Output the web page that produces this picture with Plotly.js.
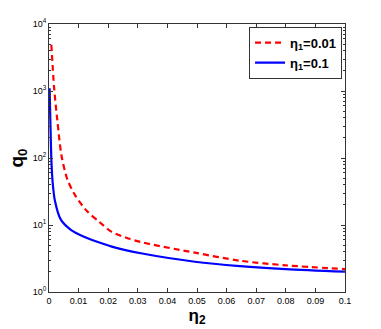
<!DOCTYPE html>
<html>
<head>
<meta charset="utf-8">
<script src="https://cdn.plot.ly/plotly-3.0.1.min.js"></script>
<style>
  html, body { margin: 0; padding: 0; background: #fff; }
  #chart { width: 381px; height: 329px; }
</style>
</head>
<body>
<div id="chart"></div>
<script>
// eta1 = 0.01 (red dashed)
const eta2Low = [0.0008, 0.0017, 0.0028, 0.0042, 0.0062, 0.009, 0.0129, 0.0169, 0.0212, 0.0268, 0.0315, 0.0493, 0.0645, 0.08, 0.1];
const q0Low   = [4900, 1150, 370, 110, 48, 27, 16, 11.2, 7.9, 6.3, 5.5, 3.86, 2.93, 2.5, 2.2];

// eta1 = 0.1 (blue solid)
const eta2High = [0.0002, 0.0005, 0.0008, 0.0012, 0.002, 0.004, 0.0075, 0.0118, 0.018, 0.0212, 0.0315, 0.0493, 0.0645, 0.08, 0.1];
const q0High   = [1100, 300, 95, 45, 23, 12, 8.4, 6.7, 5.3, 4.75, 3.75, 2.83, 2.44, 2.2, 2.01];

const xTicks = [0, 0.01, 0.02, 0.03, 0.04, 0.05, 0.06, 0.07, 0.08, 0.09, 0.1];
const xTickText = ["0", "0.01", "0.02", "0.03", "0.04", "0.05", "0.06", "0.07", "0.08", "0.09", "0.1"];
const yTicks = [1, 10, 100, 1000, 10000];
const yTickText = ["10<sup>0</sup>", "10<sup>1</sup>", "10<sup>2</sup>", "10<sup>3</sup>", "10<sup>4</sup>"];

// minor ticks 2..9 in each decade
const yMinor = [];
for (let d = 1; d < 10000; d *= 10)
    for (let m = 2; m <= 9; m++) yMinor.push(m * d);

const lowTrace = {
    x: eta2Low,
    y: q0Low,
    name: "<b>η<sub>1</sub>=0.01</b>",
    type: "scatter",
    mode: "lines",
    line: {color: "#ff0000", width: 2.2, dash: "6px,4px", shape: "spline", smoothing: 0.8}
};

const highTrace = {
    x: eta2High,
    y: q0High,
    name: "<b>η<sub>1</sub>=0.1</b>",
    type: "scatter",
    mode: "lines",
    line: {color: "#0000ff", width: 2.2, shape: "spline", smoothing: 0.8}
};

const axisCommon = {
    showline: true,
    linecolor: "#333",
    linewidth: 1,
    mirror: "ticks",
    ticks: "inside",
    ticklen: 4,
    tickcolor: "#333",
    showgrid: false,
    zeroline: false,
    tickfont: {family: "Liberation Sans, Arial, sans-serif", size: 9, color: "#000"}
};

const layout = {
    width: 381,
    height: 329,
    paper_bgcolor: "#fff",
    plot_bgcolor: "#fff",
    margin: {t: 24, r: 36, b: 37, l: 49},
    showlegend: true,
    legend: {
        x: 0.99, y: 0.99, xanchor: "right", yanchor: "top",
        bgcolor: "#fff", bordercolor: "#333", borderwidth: 1,
        font: {family: "Liberation Sans, Arial, sans-serif", size: 13, color: "#000"}
    },
    xaxis: Object.assign({}, axisCommon, {
        range: [0, 0.1],
        tickmode: "array",
        tickvals: xTicks,
        ticktext: xTickText,
        title: {text: "<b>η<sub>2</sub></b>", standoff: 2,
                font: {family: "Liberation Sans, Arial, sans-serif", size: 17, color: "#000"}}
    }),
    yaxis: Object.assign({}, axisCommon, {
        type: "log",
        range: [0, 4],
        tickmode: "array",
        tickvals: yTicks,
        ticktext: yTickText,
        minor: {tickmode: "array", tickvals: yMinor, ticks: "inside", ticklen: 2, tickcolor: "#333", showgrid: false},
        title: {text: "<b>q<sub>0</sub></b>", standoff: 4,
                font: {family: "Liberation Sans, Arial, sans-serif", size: 19, color: "#000"}}
    })
};

Plotly.newPlot("chart", [lowTrace, highTrace], layout, {displayModeBar: false, staticPlot: true});
</script>
</body>
</html>
